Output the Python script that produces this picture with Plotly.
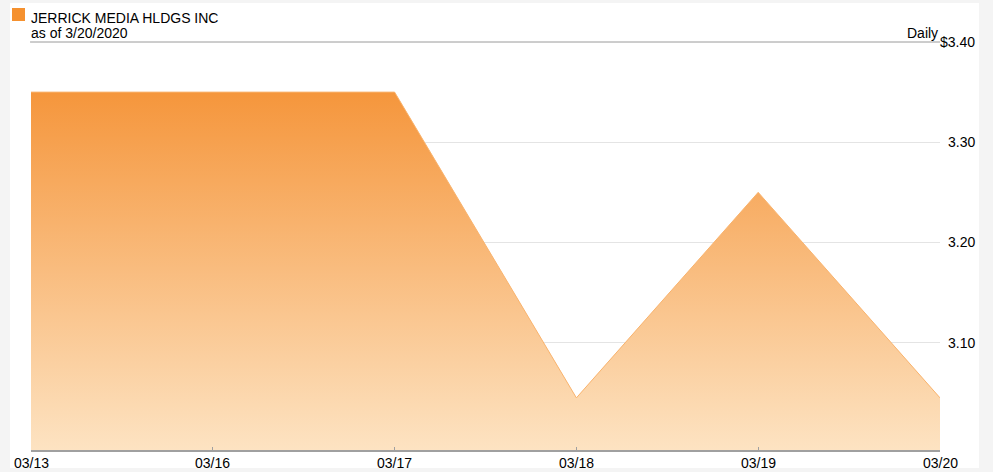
import plotly.graph_objects as go

# Data
dates = ["03/13", "03/16", "03/17", "03/18", "03/19", "03/20"]
closes = [3.35, 3.35, 3.35, 3.045, 3.25, 3.045]
y_ticks = [3.10, 3.20, 3.30, 3.40]
y_tick_labels = ["3.10", "3.20", "3.30", "$3.40"]
title_text = "JERRICK MEDIA HLDGS INC"
subtitle_text = "as of 3/20/2020"
period_text = "Daily"

Y_MIN, Y_MAX = 2.993, 3.40
FONT = "Liberation Sans, Arial, sans-serif"

fig = go.Figure()
fig.add_trace(go.Scatter(
    x=dates, y=closes, mode="lines",
    line=dict(color="#f9b36d", width=1),
    fill="tozeroy",
    fillgradient=dict(
        type="vertical",
        colorscale=[[0, "#fde3c2"], [1, "#f5963c"]],
        start=Y_MIN, stop=max(closes),
    ),
    hoverinfo="skip",
))

annotations = []
for v, t in zip(y_ticks, y_tick_labels):
    annotations.append(dict(
        x=1, xref="paper", y=v, yref="y", text=t, showarrow=False,
        xanchor="right", yanchor="middle", xshift=37,
        font=dict(family=FONT, size=14, color="#000"),
    ))
for d in dates:
    annotations.append(dict(
        x=d, xref="x", y=0, yref="paper", text=d, showarrow=False,
        xanchor="center", yanchor="middle", yshift=-13,
        font=dict(family=FONT, size=14, color="#000"),
    ))
annotations.append(dict(
    x=1, xref="paper", y=1, yref="paper", text=period_text, showarrow=False,
    xanchor="right", yanchor="bottom", yshift=-1,
    font=dict(family=FONT, size=14, color="#000"),
))
annotations.append(dict(
    x=0, xref="paper", y=1, yref="paper", text=title_text, showarrow=False,
    xanchor="left", yanchor="middle", xshift=-2, yshift=24,
    font=dict(family=FONT, size=14, color="#000"),
))
annotations.append(dict(
    x=0, xref="paper", y=1, yref="paper", text=subtitle_text, showarrow=False,
    xanchor="left", yanchor="middle", xshift=-2, yshift=9,
    font=dict(family=FONT, size=14, color="#000"),
))

shapes = [
    # white panel
    dict(type="rect", xref="paper", yref="paper", x0=-0.0231, x1=1.0429,
         y0=-0.0441, y1=1.0956, fillcolor="white", line=dict(width=0), layer="below"),
    # header underline
    dict(type="line", xref="paper", yref="paper", x0=-0.001, x1=1, y0=1, y1=1,
         line=dict(color="#9a9a9a", width=1)),
    # legend square
    dict(type="rect", xref="paper", yref="paper", x0=-0.0209, x1=-0.0066,
         y0=1.0515, y1=1.0833, fillcolor="#f5912f", line=dict(width=0)),
]

fig.update_layout(
    width=993, height=472,
    margin=dict(l=31, r=53, t=42, b=22, autoexpand=False),
    paper_bgcolor="#f4f4f4",
    plot_bgcolor="white",
    showlegend=False,
    annotations=annotations,
    shapes=shapes,
    font=dict(family=FONT, size=14, color="#000"),
    xaxis=dict(
        type="category", range=[0, len(dates) - 1],
        showgrid=False, showline=True, linecolor="#a0a0a0", linewidth=1.5,
        ticks="inside", ticklen=3, tickcolor="#a0a0a0", showticklabels=False,
        zeroline=False, fixedrange=True, automargin=False,
    ),
    yaxis=dict(
        range=[Y_MIN, Y_MAX], tickvals=y_ticks, showticklabels=False,
        showgrid=True, gridcolor="#e4e4e4", gridwidth=1,
        zeroline=False, showline=False, fixedrange=True, automargin=False,
    ),
)

fig.write_html("out.html")
